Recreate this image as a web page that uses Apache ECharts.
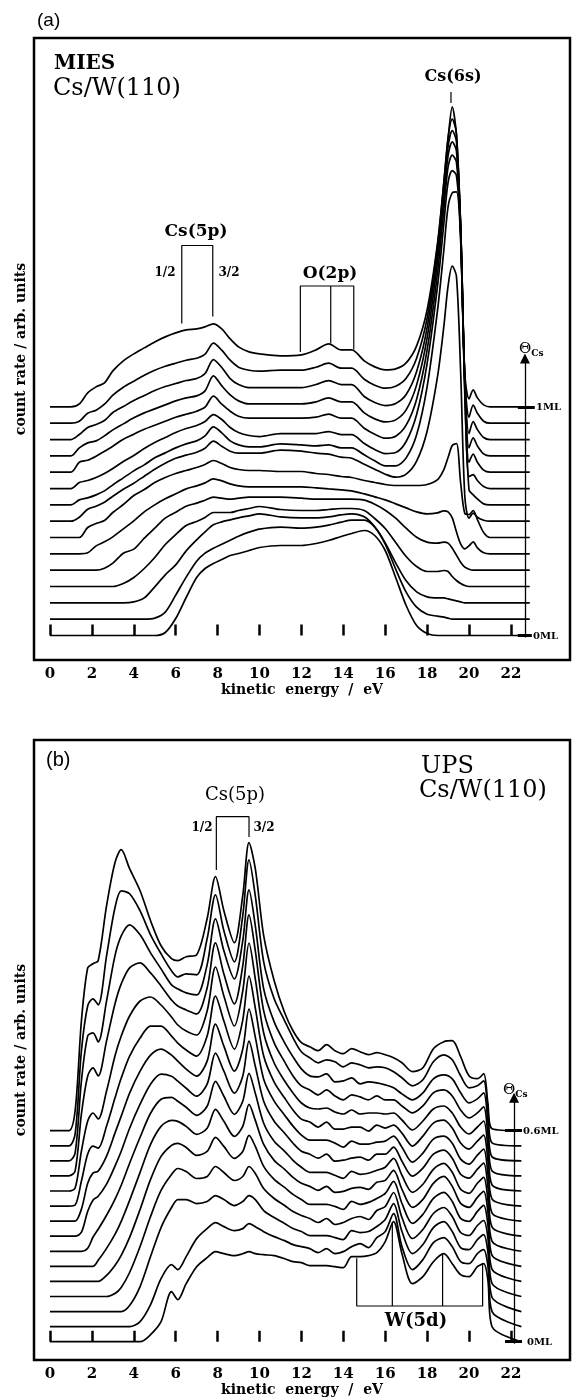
<!DOCTYPE html>
<html lang="en">
<head>
<meta charset="UTF-8">
<title>MIES and UPS spectra, Cs/W(110)</title>
<script src="https://cdn.jsdelivr.net/npm/echarts@6/dist/echarts.min.js"></script>
<style>html, body { margin: 0; padding: 0; background: #fff; }</style>
</head>
<body>
<div id="main" style="width:573px;height:1399px;"></div>
<script>
// kinetic energy grids (eV)
var miesEnergy = [0, 1.0, 1.4, 1.8, 2.2, 2.6, 3.0, 3.5, 4.0, 4.5, 5.0, 5.5, 6.0, 6.5, 7.0, 7.4, 7.8, 8.2, 8.6, 9.0, 9.5, 10, 11,
  12, 12.7, 13.3, 13.9, 14.4, 15, 15.5, 16, 16.5, 17, 17.5, 18, 18.5, 18.8, 19.0, 19.2, 19.4, 19.6, 19.8, 20.0, 20.2, 20.4, 20.7, 21.0, 22.9];
var upsEnergy = [0, 0.9, 1.2, 1.5, 1.8, 2.05, 2.3, 2.7, 3.1, 3.4, 3.8, 4.3, 4.8, 5.3, 5.8, 6.1, 6.5, 7.0, 7.5, 7.9, 8.3, 8.8, 9.2, 9.5, 9.8, 10.2, 10.7, 11.2, 11.6,
  12.0, 12.4, 12.8, 13.2, 13.6, 14.0, 14.4, 14.8, 15.2, 15.6, 16.0, 16.4, 16.8, 17.3, 17.8, 18.3, 18.8, 19.2, 19.6, 20.0, 20.4, 20.7, 20.9, 21.1, 22.5];
var tickValues = [0, 2, 4, 6, 8, 10, 12, 14, 16, 18, 20, 22];

// (a) MIES, count rate above each trace's own baseline, 0ML -> 1ML
var miesCurve0 = [0,0,0,0,0,0,0,0,0,0,0,3,17,38,58,67,72,76,80,82,85,88,90, 90,92,95,99,102,105,100,85,58,30,10,2,0,0,0,0,0,0,0,0,0,0,0,0,0];
var miesCurve1 = [0,0,0,0,0,0,0,0,0,0,1,7,24,42,58,66,71,75,79,83,87,90,92, 91,92,94,97,99,99,92,75,50,27,12,5,3,2,1,0,0,0,0,0,0,0,0,0,0];
var miesCurve2 = [0,0,0,0,0,0,0,0,1,5,16,28,38,52,63,71,78,81,83,85,87,89,86, 85,85,86,88,89,86,76,60,40,22,11,6,5,5,4,3,2,1,0,0,0,0,0,0,0];
var miesCurve3 = [0,0,0,0,0,0,0,3,9,18,29,42,52,61,65,69,74,74,74,76,78,80,77, 76,76,77,78,78,76,68,58,44,30,20,15,15,16,15,10,6,3,1,0,0,0,0,0,0];
var miesCurve4 = [0,0,0,0,0,2,7,17,21,32,42,52,58,64,67,70,73,72,71,72,73,73,73, 72,71,71,71,71,70,66,60,52,42,33,28,27,28,27,22,15,8,3,1,0,0,0,0,0];
var miesCurve5 = [0,0,0,1,8,12,17,25,33,42,49,55,60,65,68,71,75,73,70,68,67,67,67, 67,66,65,64,63,60,57,54,50,46,42,40,41,43,42,36,22,10,5,8,12,6,1,0,0];
var miesCurve6 = [0,0,0,10,14,17,25,33,42,48,55,60,64,67,70,73,77,74,70,68,67,67,66, 66,64,63,61,60,57,55,53,52,52,52,53,58,68,80,92,94,55,24,23,27,18,5,0,0];
var miesCurve7 = [0,0,4,12,15,19,25,32,38,45,52,58,63,66,69,73,80,75,70,68,68,68,71, 70,68,67,64,63,57,52,47,44,47,60,90,145,195,235,255,245,150,25,3,8,4,1,0,0];
var miesCurve8 = [0,0,5,7,10,14,20,27,34,40,47,52,57,61,64,69,78,72,64,60,58,58,61, 60,59,60,57,57,50,44,39,39,47,70,118,195,255,298,312,313,265,110,15,10,6,1,0,0];
var miesCurve9 = [0,0,6,8,11,15,20,27,33,40,46,51,56,60,63,67,74,69,61,56,53,52,55, 55,55,57,54,54,45,39,35,36,47,74,125,203,265,306,318,313,255,100,12,14,8,2,0,0];
var miesCurve10 = [0,0,10,12,16,21,26,33,38,43,47,51,55,58,61,65,76,68,61,56,54,54,54, 54,55,58,54,54,44,38,34,36,47,73,122,200,263,305,317,310,245,90,10,18,10,2,0,0];
var miesCurve11 = [0,0,8,13,15,20,26,32,38,43,47,51,55,58,60,65,80,70,61,55,52,52,52, 52,54,58,54,54,43,37,34,36,46,71,118,195,258,300,314,305,230,75,8,18,10,2,0,0];
var miesCurve12 = [0,0,5,12,15,19,27,33,39,44,49,53,56,59,61,66,80,72,61,55,52,52,52, 52,55,59,55,55,43,37,34,36,45,68,112,188,250,293,309,298,215,60,6,18,10,2,0,0];
var miesCurve13 = [0,0,2,10,13,19,28,36,42,48,53,57,60,63,65,69,80,73,63,56,53,52,53, 53,56,60,55,55,44,38,35,37,45,65,105,178,240,285,304,290,195,45,6,18,10,2,0,0];
var miesCurve14 = [0,0,3,14,20,24,36,46,53,59,65,70,74,77,78,80,83,78,68,60,55,53,51, 52,57,63,57,57,46,40,37,38,44,61,97,164,225,268,300,272,175,33,8,17,9,2,0,0];

// (b) UPS, 0ML -> 0.6ML
var upsCurve0 = [0,0,0,0,0,0,0,0,0,0,0,0,7,20,50,42,58,75,84,90,88,86,88,90,88,87,86,83,80, 79,76,76,76,75,74,85,85,86,89,100,120,88,58,65,80,88,78,67,65,75,78,62,15,0];
var upsCurve1 = [0,0,0,0,0,0,0,0,0,0,0,5,22,48,62,57,70,88,98,104,100,96,98,103,100,95,90,86,82, 80,78,74,78,73,75,80,83,79,89,95,113,80,57,67,84,89,80,65,63,73,77,61,15,0];
var upsCurve2 = [0,0,0,0,0,0,0,0,0,0,6,25,55,84,104,112,112,108,110,116,112,106,110,116,112,101,94,88,83, 80,76,76,76,74,72,81,79,80,85,92,108,80,58,67,84,90,80,64,62,72,77,60,14,0];
var upsCurve3 = [0,0,0,0,0,0,0,0,3,9,24,50,80,106,122,128,125,118,120,130,124,116,120,130,123,108,98,91,85, 81,78,74,78,72,74,78,80,77,86,90,104,79,58,67,83,89,80,64,61,71,76,59,13,0];
var upsCurve4 = [0,0,0,0,0,0,0,6,16,26,44,72,102,125,136,138,134,126,130,144,135,123,130,146,135,115,102,94,87, 82,77,77,77,75,72,80,77,79,83,88,100,78,58,67,83,89,80,63,60,70,76,57,12,0];
var upsCurve5 = [0,0,0,0,0,0,6,18,32,45,66,94,122,140,146,145,140,132,138,157,145,130,140,162,146,122,106,97,89, 83,80,76,80,74,75,78,79,77,84,86,96,77,59,67,83,90,80,63,59,69,75,55,11,0];
var upsCurve6 = [0,0,0,0,3,14,22,36,52,66,88,114,138,152,154,150,144,136,145,170,155,137,150,178,158,128,110,100,91, 84,79,79,79,76,73,80,77,78,81,84,93,76,59,67,82,88,79,62,58,68,74,52,10,0];
var upsCurve7 = [0,0,0,4,25,36,40,52,70,85,108,132,152,162,160,155,148,140,152,183,165,143,160,195,170,135,115,103,93, 85,82,78,82,75,76,78,79,76,82,82,89,75,60,68,82,86,78,62,58,67,73,50,9,0];
var upsCurve8 = [0,0,0,12,38,48,50,65,88,105,128,150,166,172,166,160,152,145,160,197,175,150,172,212,184,142,120,106,95, 86,81,81,81,78,74,80,77,77,79,80,85,74,59,68,82,85,78,62,57,66,72,48,8,0];
var upsCurve9 = [0,0,1,25,52,60,58,80,108,128,150,168,180,180,170,163,156,150,170,210,185,157,186,230,198,150,124,108,96, 87,84,79,84,77,77,79,79,75,81,78,81,73,60,70,83,86,78,63,57,65,71,46,7,0];
var upsCurve10 = [0,0,3,40,70,78,72,100,135,155,175,190,194,186,174,166,160,156,180,224,195,165,200,248,212,158,128,110,98, 88,83,82,83,79,77,81,77,78,78,77,78,71,61,70,82,85,78,64,57,64,70,44,6,0];
var upsCurve11 = [0,0,5,62,100,108,100,135,172,192,208,213,203,190,176,170,166,162,188,233,202,172,210,261,225,165,133,114,100, 90,86,81,86,80,76,81,79,76,80,76,76,70,63,70,83,86,80,66,58,63,69,42,5,0];
var upsCurve12 = [0,0,8,80,125,128,119,160,205,225,236,226,208,192,176,172,168,166,196,242,210,182,220,271,235,172,139,118,104, 92,85,84,87,79,80,83,77,79,78,76,73,67,61,68,82,86,82,68,58,62,68,40,4,0];
var upsCurve13 = [0,0,12,95,140,147,141,190,238,255,252,235,211,192,175,169,172,171,207,251,215,184,230,286,250,184,147,125,108, 94,88,83,86,84,79,83,81,78,79,78,74,68,60,66,84,91,86,70,58,60,65,36,3,0];
var upsCurve14 = [0,0,20,110,163,167,170,225,268,281,262,240,210,185,172,170,174,176,212,254,220,188,235,288,262,195,150,118,100, 88,84,80,86,80,77,82,79,76,78,76,73,68,59,63,82,89,90,74,55,52,57,28,2,0];

var miesCurves = [miesCurve0, miesCurve1, miesCurve2, miesCurve3, miesCurve4, miesCurve5, miesCurve6, miesCurve7,
  miesCurve8, miesCurve9, miesCurve10, miesCurve11, miesCurve12, miesCurve13, miesCurve14];
var upsCurves = [upsCurve0, upsCurve1, upsCurve2, upsCurve3, upsCurve4, upsCurve5, upsCurve6, upsCurve7,
  upsCurve8, upsCurve9, upsCurve10, upsCurve11, upsCurve12, upsCurve13, upsCurve14];
var miesStep = 16.33;   // vertical offset between successive coverages
var upsStep = 15.07;

var serif = '"DejaVu Serif", "Liberation Serif", serif';
var chart = echarts.init(document.getElementById('main'));

function stacked(energy, curves, step, idx) {
  return curves.map(function (vals, i) {
    return {
      type: 'line', xAxisIndex: idx, yAxisIndex: idx,
      data: energy.map(function (e, j) { return [e, vals[j] + i * step]; }),
      smooth: 0.3, symbol: 'none', silent: true,
      lineStyle: { color: '#000', width: 1.7 }
    };
  });
}

function path(idx, pts, w) {
  return {
    type: 'line', xAxisIndex: idx, yAxisIndex: idx, data: pts, symbol: 'none', silent: true,
    lineStyle: { color: '#000', width: w || 1.2 }
  };
}

function thetaAxis(idx, e, top, ticks) {
  var s = path(idx, [], 1.3);
  s.markLine = {
    silent: true, symbol: ['none', 'triangle'], symbolSize: 10,
    label: { show: false }, lineStyle: { color: '#000', width: 1.3, type: 'solid' },
    data: [[{ coord: [e, -2] }, { coord: [e, top] }]].concat(ticks.map(function (t) {
      return [{ coord: [t[0], t[2]], symbol: 'none', lineStyle: { width: 3, type: 'solid', color: '#000' } },
              { coord: [t[1], t[2]], symbol: 'none' }];
    }))
  };
  return s;
}

function xAx(idx, name) {
  return {
    type: 'value', gridIndex: idx, min: -0.7637, max: 24.821,
    axisLine: { show: false }, splitLine: { show: false },
    axisTick: { show: true, inside: true, length: 11, customValues: tickValues,
      lineStyle: { color: '#000', width: 2.5 } },
    axisLabel: { customValues: tickValues, margin: 7, color: '#000',
      fontFamily: serif, fontWeight: 'bold', fontSize: 15 },
    name: name, nameLocation: 'middle', nameGap: 22,
    nameTextStyle: { color: '#000', fontFamily: serif, fontWeight: 'bold', fontSize: 14 }
  };
}

function yAx(idx, min, max) {
  return {
    type: 'value', gridIndex: idx, min: min, max: max,
    axisLine: { show: false }, axisTick: { show: false }, axisLabel: { show: false }, splitLine: { show: false },
    name: 'count rate / arb. units', nameLocation: 'middle', nameGap: 6, nameRotate: 90,
    nameTextStyle: { color: '#000', fontFamily: serif, fontWeight: 'bold', fontSize: 14 }
  };
}

function txt(x, y, text, font, align) {
  return { type: 'text', x: x, y: y, silent: true,
    style: { text: text, font: font, fill: '#000', align: align || 'left', verticalAlign: 'middle' } };
}

function theta(x, y) {
  return { type: 'text', x: x, y: y, silent: true,
    style: { text: '{t|\u0398}{s|Cs}', fill: '#000', verticalAlign: 'middle',
      rich: { t: { font: '15px ' + serif }, s: { font: 'bold 9px ' + serif, padding: [9, 0, 0, 0] } } } };
}

var series = []
  .concat(stacked(miesEnergy, miesCurves, miesStep, 0))
  .concat(stacked(upsEnergy, upsCurves, upsStep, 1))
  .concat([
    path(0, [[6.29, 312], [6.29, 390], [7.77, 390], [7.77, 319]]),
    path(0, [[11.95, 283.5], [11.95, 349.5], [14.5, 349.5], [14.5, 286]]),
    path(0, [[13.4, 292], [13.4, 349.5]]),
    path(0, [[19.14, 532.5], [19.14, 543.5]]),
    path(1, [[7.94, 471.7], [7.94, 525], [9.5, 525], [9.5, 504.7]]),
    path(1, [[14.64, 83.4], [14.64, 35.7], [20.65, 35.7], [20.65, 78.4]]),
    path(1, [[16.34, 120], [16.34, 35.7]]),
    path(1, [[18.74, 88.4], [18.74, 35.7]]),
    thetaAxis(0, 22.67, 277, [[22.33, 23.14, 14 * miesStep], [22.33, 23.0, 0]]),
    thetaAxis(1, 22.15, 244, [[21.72, 22.53, 14 * upsStep], [21.72, 22.53, 0]])
  ]);

chart.setOption({
  animation: false,
  backgroundColor: '#fff',
  grid: [
    { left: 34, top: 38, width: 536, height: 622, show: true, borderColor: '#000', borderWidth: 2.5 },
    { left: 34, top: 740, width: 536, height: 620, show: true, borderColor: '#000', borderWidth: 2.5 }
  ],
  xAxis: [xAx(0, 'kinetic  energy  /  eV'), xAx(1, 'kinetic  energy  /  eV')],
  yAxis: [yAx(0, -24.5, 597.5), yAx(1, -18.3, 601.7)],
  series: series,
  graphic: [
    txt(37, 21, '(a)', '19px "Liberation Sans", Arial, sans-serif'),
    txt(54, 64, 'MIES', 'bold 20px ' + serif),
    txt(53, 89, 'Cs/W(110)', '24px ' + serif),
    txt(453, 77, 'Cs(6s)', 'bold 16px ' + serif, 'center'),
    txt(196, 232, 'Cs(5p)', 'bold 17px ' + serif, 'center'),
    txt(165, 273, '1/2', 'bold 12px ' + serif, 'center'),
    txt(229, 273, '3/2', 'bold 12px ' + serif, 'center'),
    txt(330, 274, 'O(2p)', 'bold 17px ' + serif, 'center'),
    theta(519, 349),
    txt(536, 407, '1ML', 'bold 10px ' + serif),
    txt(533, 636, '0ML', 'bold 10px ' + serif),

    txt(46, 760, '(b)', '20px "Liberation Sans", Arial, sans-serif'),
    txt(421, 767, 'UPS', '24px ' + serif),
    txt(419, 791, 'Cs/W(110)', '24px ' + serif),
    txt(235, 795, 'Cs(5p)', '18px ' + serif, 'center'),
    txt(202, 828, '1/2', 'bold 12px ' + serif, 'center'),
    txt(264, 828, '3/2', 'bold 12px ' + serif, 'center'),
    txt(416, 1321, 'W(5d)', 'bold 18px ' + serif, 'center'),
    theta(503, 1090),
    txt(523, 1131, '0.6ML', 'bold 10px ' + serif),
    txt(527, 1342, '0ML', 'bold 10px ' + serif)
  ]
});
</script>
</body>
</html>
